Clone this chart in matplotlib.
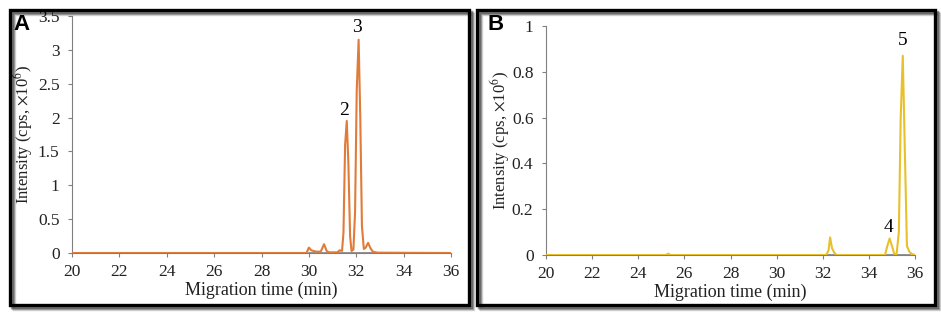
import matplotlib
matplotlib.use('Agg')
import matplotlib.pyplot as plt
from matplotlib.patches import Rectangle
from matplotlib.ticker import FuncFormatter

plt.rcParams['font.family'] = 'Liberation Serif'
plt.rcParams['mathtext.fontset'] = 'stix'

# panel A trace (orange)
time_a = [20, 29.9, 30.0, 30.1, 30.3, 30.5, 30.64, 30.75, 30.85, 31.2, 31.3, 31.4,
          31.46, 31.53, 31.6, 31.67, 31.74, 31.8, 31.88, 31.95, 32.02, 32.1, 32.17,
          32.24, 32.32, 32.4, 32.5, 32.6, 32.7, 32.9, 36]
inten_a = [0, 0, 0.08, 0.04, 0.02, 0.02, 0.13, 0.03, 0.01, 0.01, 0.04, 0.03,
           0.3, 1.6, 1.95, 1.3, 0.25, 0.03, 0.05, 0.6, 2.4, 3.15, 2.0,
           0.4, 0.06, 0.08, 0.15, 0.07, 0.02, 0.005, 0]
base_a = [(30.0, 32.8)]
peaks_a = {'2': (31.5, 1.98), '3': (32.05, 3.2)}

# panel B trace (yellow)
time_b = [20, 25.2, 25.3, 25.4, 32.15, 32.25, 32.32, 32.4, 32.5, 32.6, 34.7, 34.8,
          34.9, 35.0, 35.1, 35.2, 35.3, 35.38, 35.47, 35.55, 35.65, 35.75, 35.85, 36]
inten_b = [0, 0, 0.006, 0, 0, 0.02, 0.077, 0.03, 0.01, 0.0, 0, 0.04,
           0.072, 0.04, 0.005, 0.003, 0.1, 0.6, 0.87, 0.5, 0.04, 0.015, 0.005, 0]
base_b = [(32.2, 32.6), (34.75, 35.1), (35.2, 35.8)]
peaks_b = {'4': (34.85, 0.085), '5': (35.45, 0.9)}

xticks = list(range(20, 37, 2))

W, H = 941, 315
fig = plt.figure(figsize=(W / 100, H / 100), dpi=100)


def frame(x0, y0, x1, y1):
    # drop shadow then black border, pixel coords from top-left
    for off, a in [(4, 0.15), (3, 0.25), (2, 0.35)]:
        fig.patches.append(Rectangle(((x0 + off) / W, 1 - (y1 + off) / H), (x1 - x0) / W,
                                     (y1 - y0) / H, transform=fig.transFigure, fill=False,
                                     ec='black', lw=2.5, alpha=a))
    fig.patches.append(Rectangle((x0 / W, 1 - y1 / H), (x1 - x0) / W, (y1 - y0) / H,
                                 transform=fig.transFigure, fill=False, ec='black', lw=2.4))


def panel(box, t, y, col, bases, peaks, ymax, ystep, letter, lx, ylx):
    x0, x1, y0, y1 = box
    ax = fig.add_axes([x0 / W, 1 - y1 / H, (x1 - x0) / W, (y1 - y0) / H])
    ax.plot(t, y, color=col, lw=1.5, zorder=3)
    for a, b in bases:
        ax.plot([a, b], [0, 0], color='#7f7f7f', lw=1.2, zorder=2)
    for k, (px, py) in peaks.items():
        ax.text(px, py, k, fontsize=14, ha='center', va='bottom')
    ax.set_xlim(20, 36)
    ax.set_ylim(0, ymax)
    ax.set_xticks(xticks)
    n = int(round(ymax / ystep))
    ax.set_yticks([i * ystep for i in range(n + 1)])
    ax.yaxis.set_major_formatter(FuncFormatter(lambda v, p: '{:g}'.format(round(v, 2))))
    for s in ['top', 'right']:
        ax.spines[s].set_visible(False)
    for s in ['left', 'bottom']:
        ax.spines[s].set_color('#808080')
    ax.tick_params(colors='#808080', labelcolor='#222222', labelsize=12.5, length=3)
    ax.tick_params(axis='y', pad=6)
    ax.tick_params(axis='x', pad=5)
    ax.set_xlabel('Migration time (min)', fontsize=13, labelpad=1, color='#222222')
    ax.set_ylabel(r'Intensity (cps, $\times$10$^{6}$)', fontsize=12, color='#222222')
    ax.yaxis.set_label_coords((ylx - x0) / (x1 - x0), 0.5)
    fig.text(lx / W, 1 - 24 / H, letter, fontsize=16, fontweight='bold',
             family='Liberation Sans', va='center', ha='center')
    return ax


frame(10, 10, 469, 305)
frame(477, 10, 935, 305)

panel((72, 451, 16, 253), time_a, inten_a, '#e07b39', base_a, peaks_a, 3.5, 0.5, 'A', 22, 35)
panel((546, 915, 26, 255), time_b, inten_b, '#e8c02a', base_b, peaks_b, 1.0, 0.2, 'B', 496, 512)

fig.savefig('out.png', dpi=100)
